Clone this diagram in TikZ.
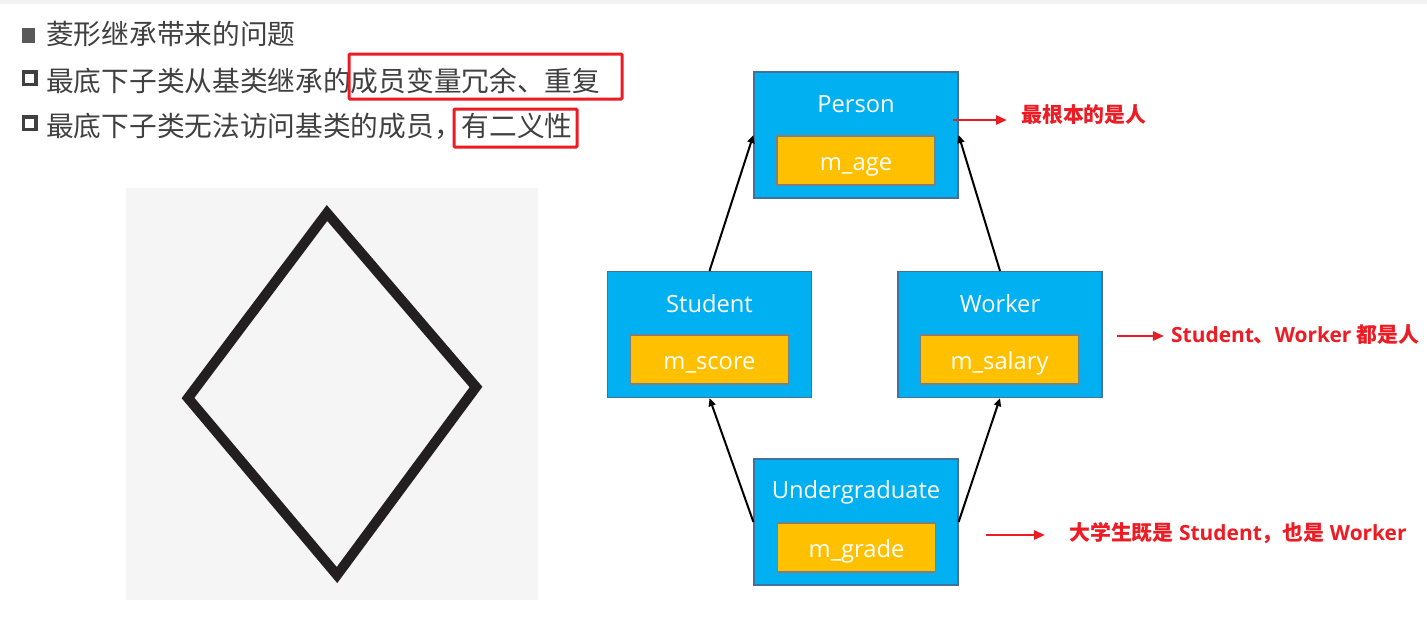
\documentclass[tikz,border=0pt]{standalone}
\usepackage{fontspec}
\newfontfamily\cjk{Noto Sans CJK SC}
\newfontfamily\osans{Open Sans}
\usetikzlibrary{arrows.meta}
\definecolor{boxblue}{HTML}{00B0F0}
\definecolor{boxedge}{HTML}{41719C}
\definecolor{boxyellow}{HTML}{FFC000}
\definecolor{inedge}{HTML}{7F7F7F}
\definecolor{alertred}{HTML}{ED1C24}
\definecolor{txtgray}{HTML}{404040}
\definecolor{bulletgray}{HTML}{595959}
\definecolor{panelgray}{HTML}{F5F5F5}
\definecolor{topgray}{HTML}{F2F2F2}
\definecolor{diamondcol}{HTML}{231F20}
\begin{document}
\begin{tikzpicture}[x=1pt,y=-1pt,
  outerbox/.style={draw=boxedge, line width=1.2pt, fill=boxblue, minimum width=204pt, minimum height=126pt, inner sep=0pt},
  innerbox/.style={draw=inedge, line width=1.2pt, fill=boxyellow, minimum width=158pt, minimum height=49pt, inner sep=0pt},
  boxtext/.style={text=white, font=\osans\fontsize{23.7}{28}\selectfont, inner sep=0pt, anchor=base},
  lefttext/.style={text=txtgray, font=\cjk\fontsize{27.7}{32}\selectfont, inner sep=0pt, anchor=base west},
  redtext/.style={text=alertred, font=\cjk\bfseries\fontsize{20.9}{24}\selectfont, inner sep=0pt, anchor=base west},
  blkarrow/.style={-{Triangle[length=8pt,width=7pt]}, line width=2pt, black},
  redarrow/.style={-{Triangle[length=11pt,width=9pt]}, line width=2.5pt, alertred},
  redframe/.style={draw=alertred, line width=3pt, rounded corners=1pt}
]
\useasboundingbox (0,0) rectangle (1427,641);
\fill[white] (0,0) rectangle (1427,641);
\fill[topgray] (0,0) rectangle (1427,4);

% left bullets and text
\fill[bulletgray] (21.5,28.3) rectangle (35,42.7);
\draw[txtgray, line width=3.6pt] (23.3,71.8) rectangle (35.9,84.4);
\draw[txtgray, line width=3.6pt] (23.3,116.8) rectangle (35.9,129.4);
\node[lefttext] (l1) at (46,44.7) {菱形继承带来的问题};
\node[lefttext] (l2) at (46,91) {最底下子类从基类继承的成员变量冗余、重复};
\node[lefttext] (l3) at (46,136.3) {最底下子类无法访问基类的成员，有二义性};
\draw[redframe] (349,54) rectangle (622,99);
\draw[redframe] (454,109) rectangle (577,147);

% diamond panel
\fill[panelgray] (126,188) rectangle (538,600);
\draw[diamondcol, line width=10pt, line join=miter] (327,213) -- (476,387) -- (337,575) -- (188,398) -- cycle;

% class boxes
\node[outerbox] (person) at (856,135) {};
\node[boxtext] (personT) at (856,112) {Person};
\node[innerbox] (personI) at (856,160.5) {};
\node[boxtext] (personM) at (856,170) {m\_age};

\node[outerbox] (student) at (709.5,334.5) {};
\node[boxtext] (studentT) at (709.5,312) {Student};
\node[innerbox] (studentI) at (709.5,359.5) {};
\node[boxtext] (studentM) at (709.5,369) {m\_score};

\node[outerbox] (worker) at (1000,334.5) {};
\node[boxtext] (workerT) at (1000,312) {Worker};
\node[innerbox] (workerI) at (999.5,359.5) {};
\node[boxtext] (workerM) at (999.5,369) {m\_salary};

\node[outerbox] (under) at (856,522) {};
\node[boxtext] (underT) at (856,498.5) {Undergraduate};
\node[innerbox] (underI) at (856.5,547.5) {};
\node[boxtext] (underM) at (856.5,557) {m\_grade};

% inheritance arrows
\draw[blkarrow] (student.north) -- (person.west);
\draw[blkarrow] (worker.north) -- (person.east);
\draw[blkarrow] (under.west) -- (student.south);
\draw[blkarrow] (under.east) -- (worker.south);

% red annotations
\coordinate (r1s) at (953,120);
\coordinate (r1e) at (1007,120);
\draw[redarrow] (r1s) -- (r1e);
\node[redtext] (n1) at (1021,122.8) {最根本的是人};

\coordinate (r2s) at (1117,336);
\coordinate (r2e) at (1164,336);
\draw[redarrow] (r2s) -- (r2e);
\node[redtext] (n2) at (1171,342.8) {{\osans\bfseries Student}、{\osans\bfseries Worker }都是人};

\coordinate (r3s) at (986,535);
\coordinate (r3e) at (1045,535);
\draw[redarrow] (r3s) -- (r3e);
\node[redtext] (n3) at (1069,540.8) {大学生既是{\osans\bfseries\ Student}，也是{\osans\bfseries\ Worker}};
\end{tikzpicture}
\end{document}
